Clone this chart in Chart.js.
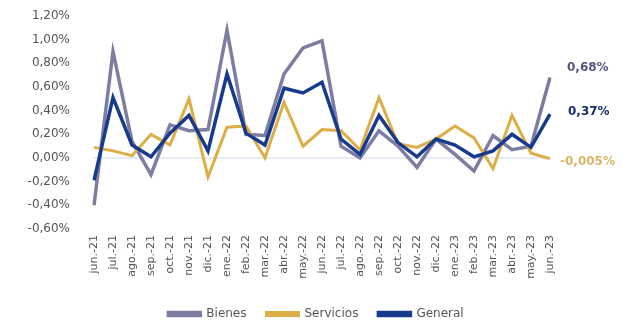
<!DOCTYPE html>
<html><head><meta charset="utf-8">
<script src="https://cdn.jsdelivr.net/npm/chart.js@4"></script>
<style>html,body{margin:0;padding:0;background:#fff}#w{width:630px;height:320px}</style>
</head><body><div id="w"><canvas id="c"></canvas></div>
<script>
const categories = ["jun.-21","jul.-21","ago.-21","sep.-21","oct.-21","nov.-21","dic.-21","ene.-22","feb.-22","mar.-22","abr.-22","may.-22","jun.-22","jul.-22","ago.-22","sep.-22","oct.-22","nov.-22","dic.-22","ene.-23","feb.-23","mar.-23","abr.-23","may.-23","jun.-23"];
const bienes    = [-0.40,0.90,0.14,-0.14,0.28,0.23,0.24,1.08,0.20,0.19,0.71,0.93,0.99,0.10,0.00,0.23,0.10,-0.08,0.16,0.03,-0.11,0.19,0.07,0.10,0.68];
const servicios = [0.09,0.06,0.02,0.20,0.11,0.50,-0.16,0.26,0.27,0.00,0.47,0.10,0.24,0.23,0.07,0.51,0.12,0.09,0.16,0.27,0.17,-0.09,0.36,0.04,-0.005];
const general   = [-0.19,0.51,0.11,0.01,0.21,0.36,0.06,0.71,0.21,0.11,0.59,0.55,0.64,0.16,0.03,0.36,0.13,0.01,0.16,0.11,0.01,0.06,0.20,0.09,0.37];
const endLabels = ["0,68%","-0,005%","0,37%"];
const yTicks = [-0.6,-0.4,-0.2,0,0.2,0.4,0.6,0.8,1.0,1.2];

const colors = ["#7d7ca3","#dcae45","#173b8c"];
const labelColors = ["#55557f","#d9b468","#142d6e"];

const endLabelPlugin = {
  id:'endLabels',
  afterDatasetsDraw(chart){
    const ctx = chart.ctx;
    const xs = chart.scales.x, ys = chart.scales.y;
    const offs = [-10, 3, -2];
    const dx = [17, 10, 18];
    ctx.save();
    ctx.textBaseline = 'middle';
    ctx.font = "bold 12px 'DejaVu Sans'";
    chart.data.datasets.forEach((ds,i)=>{
      const n = ds.data.length-1;
      const x = xs.getPixelForValue(n) + dx[i];
      const y = ys.getPixelForValue(ds.data[n]) + offs[i];
      ctx.fillStyle = labelColors[i];
      ctx.fillText(endLabels[i], x, y);
    });
    ctx.restore();
  }
};
const zeroLine = {
  id:'zeroLine',
  beforeDatasetsDraw(chart){
    const ctx = chart.ctx, a = chart.chartArea, y = chart.scales.y.getPixelForValue(0);
    ctx.save();
    ctx.strokeStyle = '#cdd6e8'; ctx.lineWidth = 1;
    ctx.beginPath(); ctx.moveTo(a.left, y); ctx.lineTo(a.right, y); ctx.stroke();
    ctx.restore();
  }
};
const legendShift = {
  id:'legendShift',
  afterLayout(chart){
    const lg = chart.legend;
    if (lg && typeof lg.left === 'number' && typeof lg.right === 'number') {
      lg.left += 41; lg.right += 41;
    }
  }
};

new Chart(document.getElementById('c'), {
  type:'line',
  data:{
    labels: categories,
    datasets:[
      {label:'Bienes', data:bienes, order:2, borderColor:colors[0], backgroundColor:colors[0], borderWidth:3.5, pointRadius:0, tension:0},
      {label:'Servicios', data:servicios, order:1, borderColor:colors[1], backgroundColor:colors[1], borderWidth:3, pointRadius:0, tension:0},
      {label:'General', data:general, order:0, borderColor:colors[2], backgroundColor:colors[2], borderWidth:3.5, pointRadius:0, tension:0}
    ]
  },
  options:{
    responsive:true, maintainAspectRatio:false, animation:false,
    layout:{padding:{left:0,right:80,top:16,bottom:-10}},
    plugins:{
      legend:{position:'bottom', labels:{usePointStyle:false, boxWidth:32, boxHeight:3, padding:20, color:'#555', font:{family:"'DejaVu Sans'", size:12},
        sort:(a,b)=>a.datasetIndex-b.datasetIndex}},
      tooltip:{enabled:false}
    },
    scales:{
      x:{offset:false, grid:{display:false, drawTicks:false}, border:{display:false},
         afterFit(s){ s.height = 59; },
         ticks:{autoSkip:false, maxRotation:90, minRotation:90, color:'#555', font:{family:"'DejaVu Sans'", size:11}, padding:6}},
      y:{min:-0.6, max:1.2, grid:{display:false, drawTicks:true, tickLength:20}, border:{display:false},
         afterBuildTicks(s){ s.ticks = yTicks.map(v=>({value:v})); },
         afterFit(s){ s.width = 94; },
         ticks:{padding:4, color:'#555', font:{family:"'DejaVu Sans'", size:12},
           callback:(v)=> (Math.round(v*100)/100).toFixed(2).replace('.',',')+'%'}}
    }
  },
  plugins:[zeroLine, endLabelPlugin, legendShift]
});
</script></body></html>
